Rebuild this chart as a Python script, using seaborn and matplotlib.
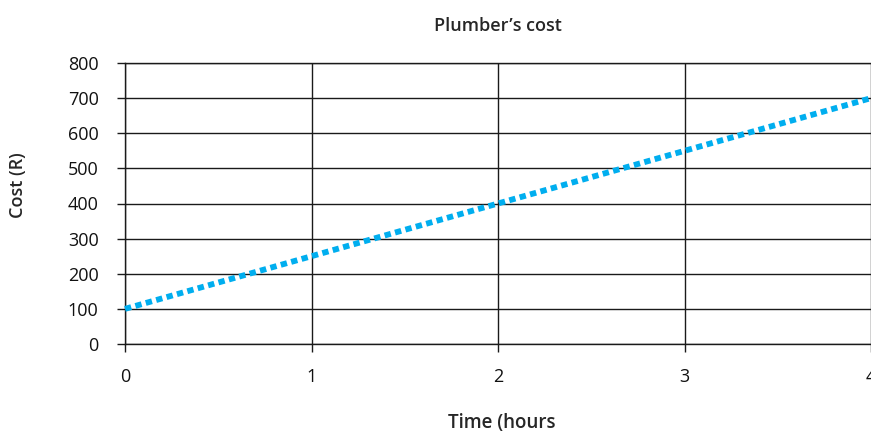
import matplotlib
matplotlib.use("Agg")
import matplotlib.pyplot as plt
import pandas as pd
import seaborn as sns

hours = [0, 1, 2, 3, 4]
cost = [100, 250, 400, 550, 700]
y_ticks = [0, 100, 200, 300, 400, 500, 600, 700, 800]

sns.set_theme(style="white")
plt.rcParams["font.family"] = ["Open Sans", "DejaVu Sans"]

df = pd.DataFrame({"hours": hours, "cost": cost})

fig = plt.figure(figsize=(8.71, 4.32), dpi=100)
ax = fig.add_axes([125 / 871, (432 - 344) / 432, (871 - 125) / 871, (344 - 63) / 432])

sns.lineplot(data=df, x="hours", y="cost", ax=ax, color="#00aeef",
             linewidth=4.2, linestyle=(0, (1.1, 0.75)), zorder=3, clip_on=False)

ax.set_xlim(0, 4)
ax.set_ylim(0, 800)
ax.set_xticks(hours)
ax.set_yticks(y_ticks)
ax.grid(True, color="#1a1a1a", linewidth=1.0)
for name, s in ax.spines.items():
    s.set_visible(name != "right")
    s.set_color("#1a1a1a")
    s.set_linewidth(1.0)
ax.tick_params(axis="both", length=6, width=1.0, color="#1a1a1a", direction="out",
               bottom=True, left=True, labelsize=13, labelcolor="#111111")
ax.tick_params(axis="x", pad=11)
ax.tick_params(axis="y", pad=13)

ax.set_xlabel("Time (hours", fontsize=13.5, fontweight="semibold", va="top")
ax.xaxis.set_label_coords(0.505, -0.245)
ax.set_ylabel("Cost (R)", fontsize=13, fontweight="semibold", va="center")
ax.yaxis.set_label_coords(-0.143, 0.566)
ax.set_title("Plumber\u2019s cost", fontsize=13, fontweight="semibold", pad=23)

fig.savefig("out.png", dpi=100)
